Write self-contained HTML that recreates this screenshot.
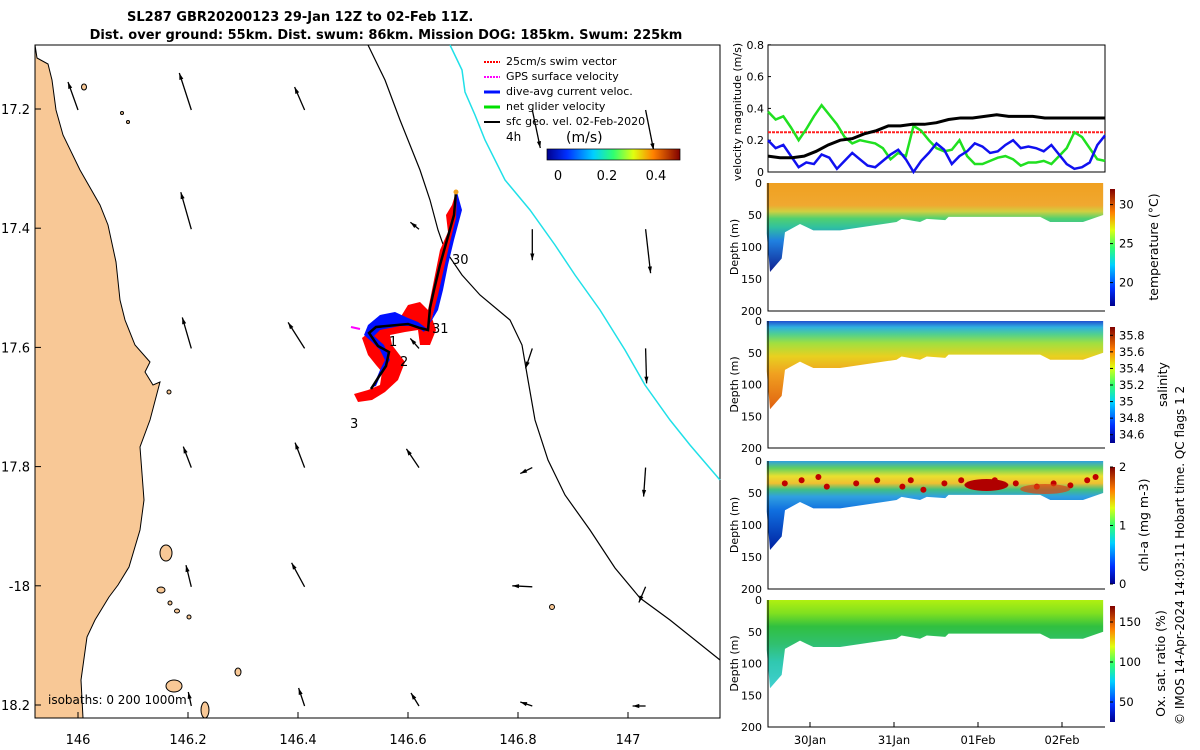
<!DOCTYPE html>
<html><head><meta charset="utf-8"><style>
body{margin:0;background:#fff;}
svg{font-family:"DejaVu Sans","Liberation Sans",sans-serif;display:block}
</style></head><body>
<svg id="s" width="1200" height="750" viewBox="0 0 1200 750" xmlns="http://www.w3.org/2000/svg">
<defs>
<linearGradient id="jet" x1="0" x2="1"><stop offset="0" stop-color="#00008f"/><stop offset=".15" stop-color="#0030ff"/><stop offset=".35" stop-color="#00d0ff"/><stop offset=".5" stop-color="#30ff70"/><stop offset=".65" stop-color="#e0ff10"/><stop offset=".8" stop-color="#ff8000"/><stop offset="1" stop-color="#800000"/></linearGradient>
<linearGradient id="jetv" x1="0" y1="1" x2="0" y2="0"><stop offset="0" stop-color="#00008f"/><stop offset=".15" stop-color="#0030ff"/><stop offset=".35" stop-color="#00d0ff"/><stop offset=".5" stop-color="#30ff70"/><stop offset=".65" stop-color="#e0ff10"/><stop offset=".8" stop-color="#ff8000"/><stop offset="1" stop-color="#800000"/></linearGradient>
<linearGradient id="gT" x1="0" y1="0" x2="0" y2="1"><stop offset="0" stop-color="#f0a020"/><stop offset=".25" stop-color="#f0a830"/><stop offset=".32" stop-color="#d0d040"/><stop offset=".4" stop-color="#50d070"/><stop offset=".5" stop-color="#30c0a0"/><stop offset=".65" stop-color="#2080e0"/><stop offset="1" stop-color="#102090"/></linearGradient>
<linearGradient id="gS" x1="0" y1="0" x2="0" y2="1"><stop offset="0" stop-color="#2050d0"/><stop offset=".07" stop-color="#30b0e0"/><stop offset=".15" stop-color="#50d090"/><stop offset=".25" stop-color="#a0e040"/><stop offset=".4" stop-color="#e8d020"/><stop offset=".6" stop-color="#f0a020"/><stop offset="1" stop-color="#e06010"/></linearGradient>
<linearGradient id="gC" x1="0" y1="0" x2="0" y2="1"><stop offset="0" stop-color="#30a0e0"/><stop offset=".08" stop-color="#60d060"/><stop offset=".17" stop-color="#e8e030"/><stop offset=".25" stop-color="#f0c030"/><stop offset=".32" stop-color="#40c080"/><stop offset=".4" stop-color="#30a0e0"/><stop offset=".55" stop-color="#1070e0"/><stop offset="1" stop-color="#0020a0"/></linearGradient>
<linearGradient id="gO" x1="0" y1="0" x2="0" y2="1"><stop offset="0" stop-color="#b0f010"/><stop offset=".15" stop-color="#80e020"/><stop offset=".3" stop-color="#30c040"/><stop offset=".5" stop-color="#30c070"/><stop offset=".7" stop-color="#30c8b0"/><stop offset="1" stop-color="#40d0d0"/></linearGradient>
</defs>

<text x="127" y="21" font-size="13" font-weight="bold">SL287 GBR20200123 29-Jan 12Z to 02-Feb 11Z.</text>
<text x="386" y="39" font-size="13" font-weight="bold" text-anchor="middle">Dist. over ground: 55km. Dist. swum: 86km. Mission DOG: 185km. Swum: 225km</text>

<g id="map">
<rect x="35" y="45" width="685" height="673" fill="#fff" stroke="#000"/>
<path fill="#f8c896" stroke="#000" stroke-width="1" d="M35,45 L37,58 L48,64 L52,80 L56,110 L63,135 L80,170 L100,205 L108,225 L116,262 L120,300 L125,320 L135,345 L150,362 L145,372 L153,385 L160,382 L150,420 L140,447 L144,500 L140,530 L129,567 L118,585 L109,597 L95,620 L87,637 L81,680 L83,718 L35,718 Z"/>
<g fill="#f8c896" stroke="#000" stroke-width="1">
<ellipse cx="84" cy="87" rx="2.5" ry="3"/><ellipse cx="122" cy="113" rx="1.5" ry="1.5"/><ellipse cx="128" cy="122" rx="1.5" ry="1.5"/><ellipse cx="169" cy="392" rx="2" ry="2"/><ellipse cx="166" cy="553" rx="6" ry="8"/><ellipse cx="161" cy="590" rx="4" ry="3"/><ellipse cx="170" cy="603" rx="2" ry="2"/><ellipse cx="177" cy="611" rx="2.5" ry="2"/><ellipse cx="189" cy="617" rx="2" ry="2"/><ellipse cx="238" cy="672" rx="3" ry="4"/><ellipse cx="174" cy="686" rx="8" ry="6"/><ellipse cx="205" cy="710" rx="4" ry="8"/><ellipse cx="552" cy="607" rx="2.5" ry="2.5"/>
</g>
<polyline fill="none" stroke="#000" stroke-width="1.2" points="368,45 385,80 400,120 420,170 430,200 438,230 445,250 462,275 480,295 510,320 522,345 528,380 535,420 548,460 565,495 590,530 615,568 640,598 670,620 720,660"/>
<polyline fill="none" stroke="#20e0e8" stroke-width="1.5" points="450,45 462,70 465,92 475,115 485,140 505,180 530,210 555,245 575,275 600,310 625,350 645,385 670,420 690,445 720,480"/>
<g id="arrows"></g>
<g>
<path fill="#ff0000" d="M456,192 L452,205 L446,215 L448,232 L440,250 L436,270 L432,290 L428,310 L420,302 L408,305 L400,318 L385,322 L372,330 L362,338 L368,355 L376,365 L382,372 L380,385 L368,390 L354,394 L358,402 L372,400 L385,392 L398,380 L405,362 L392,345 L390,335 L405,332 L418,330 L420,345 L430,345 L436,330 L432,318 L440,290 L445,270 L450,245 L455,225 L458,205 Z"/>
<path fill="#0010ff" d="M457,192 L462,210 L458,225 L454,240 L448,265 L443,290 L438,310 L432,320 L426,328 L418,322 L408,318 L395,312 L380,315 L368,325 L364,335 L372,342 L380,350 L385,360 L380,370 L375,382 L370,388 L376,386 L382,372 L390,360 L384,345 L374,336 L380,330 L400,326 L416,326 L424,332 L432,318 L438,295 L444,268 L450,242 L456,218 Z"/>
<polyline fill="none" stroke="#000" stroke-width="2.5" points="456,192 454,215 447,240 440,265 434,290 430,308 428,330 420,328 408,324 376,327 369,333 378,346 389,352 386,366 378,378 371,389"/>
<circle cx="456" cy="192" r="2.5" fill="#f0a020"/>
<line x1="351" y1="327" x2="360" y2="329" stroke="#ff00ff" stroke-width="2"/>
</g>
<g font-size="13"><text x="452" y="264">30</text><text x="432" y="333">31</text><text x="389" y="346">1</text><text x="400" y="366">2</text><text x="350" y="428">3</text></g>
<g font-size="11">
<text x="506" y="65">25cm/s swim vector</text>
<text x="506" y="80">GPS surface velocity</text>
<text x="506" y="95">dive-avg current veloc.</text>
<text x="506" y="110">net glider velocity</text>
<text x="506" y="125">sfc geo. vel. 02-Feb-2020</text>
</g>
<g stroke-width="2">
<line x1="484" y1="62" x2="500" y2="62" stroke="#ff0000" stroke-dasharray="2,1"/><line x1="484" y1="77" x2="500" y2="77" stroke="#ff00ff" stroke-dasharray="2,1"/><line x1="484" y1="92" x2="500" y2="92" stroke="#0010ff" stroke-width="3"/><line x1="484" y1="107" x2="500" y2="107" stroke="#00e000" stroke-width="3"/><line x1="484" y1="122" x2="500" y2="122" stroke="#000"/>
</g>
<text x="506" y="141" font-size="12">4h</text>
<text x="566" y="142" font-size="14">(m/s)</text>
<rect x="547" y="149" width="133" height="11" fill="url(#jet)" stroke="#000" stroke-width=".7"/>
<g font-size="13" text-anchor="middle"><text x="558" y="180">0</text><text x="607" y="180">0.2</text><text x="656" y="180">0.4</text></g>
<text x="48" y="704" font-size="12">isobaths: 0   200  1000m</text>
<g id="mapticks" font-size="13"></g>
</g>

<g id="right"></g>
<text transform="translate(1184,725) rotate(-90)" font-size="12">© IMOS 14-Apr-2024 14:03:11 Hobart time. QC flags 1  2</text>
</svg>
<script>
const NS="http://www.w3.org/2000/svg";
function mk(p,t,a){const e=document.createElementNS(NS,t);for(const k in a)e.setAttribute(k,a[k]);p.appendChild(e);return e;}
const lonTicks=[146,146.2,146.4,146.6,146.8,147];
const latTicks=[17.2,17.4,17.6,17.8,18,18.2];
const latLabels=["17.2","17.4","17.6","17.8","-18","18.2"];
const arrowLon=[146.0,146.206,146.412,146.62,146.826,147.032];
const arrowLat=[17.2,17.4,17.6,17.8,18.0,18.2];
const arrowU=[[-10,-12,-10,0,8,8],[0,-10.5,0,-8.6,0,5],[0,-9,-16.5,-8.7,-6.7,1],[0,-8,-9.5,-12.6,-12,-2],[0,-5.3,-13,0,-20,-6.7],[0,-3,-6,-8,-12,-13]];
const arrowV=[[28,37,23,0,-38,-40],[0,37,0,7,-31,-44],[0,31,26,10,-20,-35],[0,21,25,18.7,-6,-29],[0,21.7,24,0,1,-15.7],[0,14,18,13,4,0]];
const lonX=v=>78+(v-146)*550, latY=v=>109+(v-17.2)*596;
const mt=document.getElementById('mapticks');
lonTicks.forEach(v=>{const x=lonX(v);mk(mt,'line',{x1:x,y1:718,x2:x,y2:712,stroke:'#000'});const t=mk(mt,'text',{x:x,y:744,'text-anchor':'middle'});t.textContent=String(v);});
latTicks.forEach((v,i)=>{const y=latY(v);mk(mt,'line',{x1:35,y1:y,x2:41,y2:y,stroke:'#000'});const t=mk(mt,'text',{x:30,y:y+5,'text-anchor':'end'});t.textContent=latLabels[i];});
const ag=document.getElementById('arrows');
arrowLat.forEach((la,j)=>arrowLon.forEach((lo,i)=>{
 const x0=lonX(lo),y0=latY(la)+1,u=arrowU[j][i],v=-arrowV[j][i];
 if(Math.hypot(u,v)<2)return;
 const x1=x0+u,y1=y0+v;
 const l=mk(ag,'line',{x1:x0,y1:y0,x2:x1,y2:y1,stroke:'#000','stroke-width':1.3});
 
 
 const a=Math.atan2(v,u),h=7;
 mk(ag,'polygon',{points:`${x1},${y1} ${x1-h*Math.cos(a-0.3)},${y1-h*Math.sin(a-0.3)} ${x1-h*Math.cos(a+0.3)},${y1-h*Math.sin(a+0.3)}`,fill:'#000'});
}));
const R=document.getElementById('right');
const PX0=768,PX1=1105;
const green=[0.38,0.33,0.35,0.28,0.2,0.27,0.35,0.42,0.36,0.3,0.22,0.18,0.2,0.19,0.18,0.15,0.08,0.12,0.1,0.29,0.26,0.2,0.15,0.13,0.14,0.2,0.1,0.05,0.05,0.07,0.09,0.1,0.08,0.04,0.06,0.06,0.07,0.05,0.1,0.15,0.25,0.22,0.15,0.08,0.07];
const blue=[0.2,0.15,0.17,0.1,0.03,0.06,0.05,0.11,0.09,0.02,0.07,0.12,0.08,0.04,0.03,0.07,0.11,0.14,0.08,0.0,0.07,0.12,0.18,0.14,0.05,0.1,0.13,0.18,0.16,0.12,0.13,0.17,0.2,0.15,0.16,0.15,0.13,0.17,0.11,0.05,0.02,0.03,0.06,0.17,0.23];
const black=[0.1,0.09,0.09,0.1,0.13,0.17,0.2,0.21,0.24,0.26,0.29,0.29,0.3,0.3,0.31,0.33,0.34,0.34,0.35,0.36,0.35,0.35,0.35,0.34,0.34,0.34,0.34,0.34,0.34];
const swimRef=[0.25,0.25];
const velTicks=[0,0.2,0.4,0.6,0.8];
const dayLabels=["30Jan","31Jan","01Feb","02Feb"];
const dayTicks=[0,1,2,3];
const bottomTime=[-0.515,-0.476,-0.337,-0.298,-0.119,-0.04,0.04,0.357,1.03,1.09,1.31,1.39,1.61,1.65,2.74,2.86,3.25,3.49];
const bottomDepth=[79,139,118,77,64,69,74,74,61,56,61,56,58,53,53,61,61,50];
const depthTicks=[0,50,100,150,200];
const tx=t=>810+t*84;
const vy=v=>172-v*159;
const sx=(i,n)=>PX0+i*(PX1-PX0)/(n-1);
mk(R,'rect',{x:PX0,y:45,width:PX1-PX0,height:127,fill:'none',stroke:'#000'});
velTicks.forEach(v=>{const t=mk(R,'text',{x:764,y:vy(v)+4,'font-size':11,'text-anchor':'end'});t.textContent=String(v);mk(R,'line',{x1:PX0,y1:vy(v),x2:PX0+3,y2:vy(v),stroke:'#000'});});
const yl=mk(R,'text',{transform:'translate(741,112) rotate(-90)','font-size':11,'text-anchor':'middle'});yl.textContent='velocity magnitude (m/s)';
function line(arr,col,w,dash){const p=mk(R,'polyline',{fill:'none',stroke:col,'stroke-width':w,points:arr.map((v,i)=>sx(i,arr.length)+','+vy(v)).join(' ')});if(dash)p.setAttribute('stroke-dasharray',dash);return p;}
line(swimRef,'#ff2020',2,'3,1');
const gL=line(green,'#20e020',2.5);
const bL=line(blue,'#1010f0',2.5);
const kL=line(black,'#000',3);
const panels=[{top:183,bot:311,g:'gT',lab:'temperature (°C)',lx:1158,cb:[[30,'30'],[25,'25'],[20,'20']],cmin:17,cmax:32},
{top:321,bot:448,g:'gS',lab:'salinity',lx:1167,cb:[[35.8,'35.8'],[35.6,'35.6'],[35.4,'35.4'],[35.2,'35.2'],[35,'35'],[34.8,'34.8'],[34.6,'34.6']],cmin:34.5,cmax:35.9},
{top:461,bot:589,g:'gC',lab:'chl-a (mg m-3)',lx:1148,cb:[[2,'2'],[1,'1'],[0,'0']],cmin:0,cmax:2},
{top:600,bot:727,g:'gO',lab:'Ox. sat. ratio (%)',lx:1165,cb:[[150,'150'],[100,'100'],[50,'50']],cmin:25,cmax:170}];
panels.forEach((P,k)=>{
 const dy=d=>P.top+d*(P.bot-P.top)/200;
 const pts=[tx(bottomTime[0])+','+dy(0)].concat(bottomDepth.map((d,i)=>tx(bottomTime[i])+','+dy(d))).concat([tx(bottomTime[bottomTime.length-1])+','+dy(0)]);
 const f=mk(R,'polygon',{points:pts.join(' '),fill:'url(#'+P.g+')'});
 
 
 mk(R,'polyline',{points:`${PX0},${P.top} ${PX0},${P.bot} ${PX1},${P.bot}`,fill:'none',stroke:'#000'});
 depthTicks.forEach(d=>{const t=mk(R,'text',{x:762,y:dy(d)+4,'font-size':11,'text-anchor':'end'});t.textContent=String(d);});
 const t=mk(R,'text',{transform:`translate(738,${(P.top+P.bot)/2}) rotate(-90)`,'font-size':11,'text-anchor':'middle'});t.textContent='Depth (m)';
 const cy0=P.top+6,cy1=P.bot-5;
 mk(R,'rect',{x:1110,y:cy0,width:5,height:cy1-cy0,fill:'url(#jetv)'});
 const cv=v=>cy1-(v-P.cmin)/(P.cmax-P.cmin)*(cy1-cy0);
 P.cb.forEach(([v,s])=>{mk(R,'line',{x1:1110,y1:cv(v),x2:1113,y2:cv(v),stroke:'#000'});const tt=mk(R,'text',{x:1119,y:cv(v)+4,'font-size':11.5});tt.textContent=s;});
 const l=mk(R,'text',{transform:`translate(${P.lx},${(P.top+P.bot)/2}) rotate(-90)`,'font-size':12.5,'text-anchor':'middle'});l.textContent=P.lab;
});
const chlDotT=[-0.3,-0.1,0.1,0.2,0.55,0.8,1.1,1.2,1.35,1.6,1.8,2.0,2.2,2.45,2.7,2.9,3.1,3.3,3.4];
const chlDotD=[35,30,25,40,35,30,40,30,45,35,30,40,30,35,40,35,38,30,25];
const cp=panels[2];
chlDotT.forEach((t,i)=>{const y=cp.top+chlDotD[i]*(cp.bot-cp.top)/200;const c=mk(R,'circle',{cx:tx(t),cy:y,r:3,fill:'#c00000'});
 
 });
mk(R,'ellipse',{cx:tx(2.1),cy:cp.top+24,rx:22,ry:6,fill:'#b00000'});
mk(R,'ellipse',{cx:tx(2.8),cy:cp.top+28,rx:25,ry:5,fill:'#e04010',opacity:.7});
dayTicks.forEach((d,i)=>{const x=tx(d);mk(R,'line',{x1:x,y1:727,x2:x,y2:722,stroke:'#000'});const t=mk(R,'text',{x:x,y:744,'font-size':11.5,'text-anchor':'middle'});t.textContent=dayLabels[i];});
</script>
</body></html>
